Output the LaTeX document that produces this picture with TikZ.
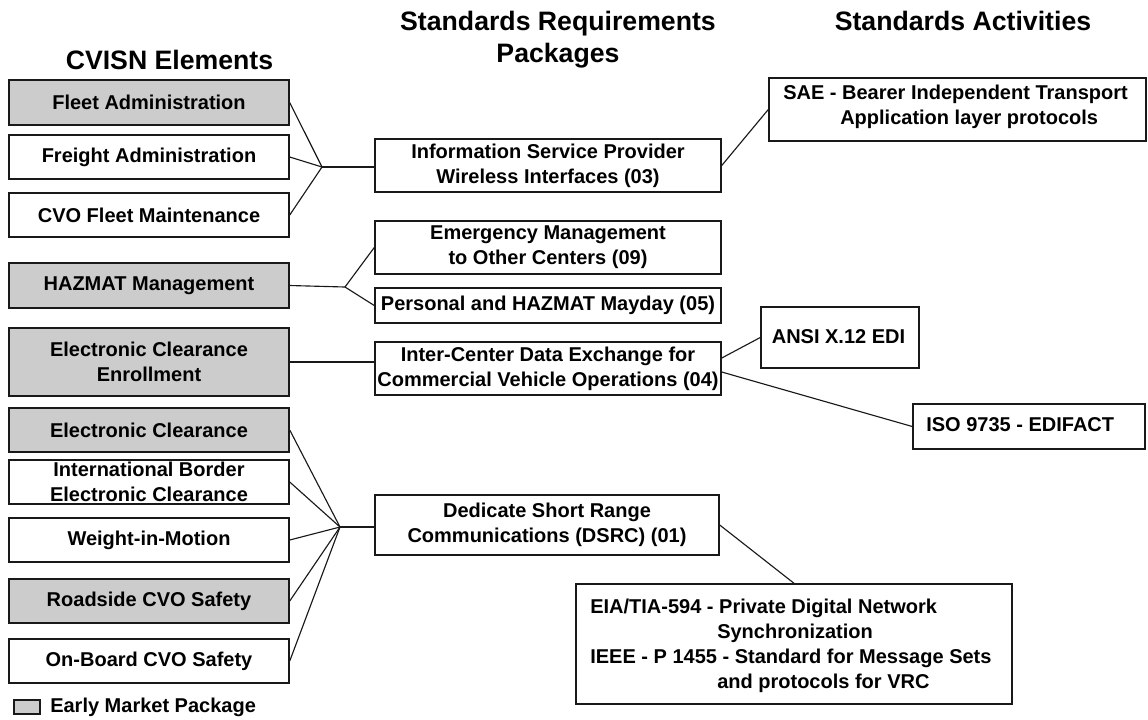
\documentclass[tikz,border=0pt]{standalone}
\usepackage{fontspec}
\setmainfont{Liberation Sans}
\usetikzlibrary{calc}
\definecolor{boxgray}{RGB}{204,204,204}
\definecolor{edge}{RGB}{25,25,25}
\begin{document}
\begin{tikzpicture}[x=0.75pt,y=-0.75pt,
  every node/.style={font=\fontsize{15}{18.75}\selectfont\bfseries, inner sep=0pt},
  wh/.style 2 args={minimum width=#1*0.75pt, minimum height=#2*0.75pt},
  box/.style={draw=edge, line width=1.1pt, fill=white, align=center},
  early/.style={box, fill=boxgray},
  conn/.style={draw=edge, line width=0.85pt},
  head/.style={font=\fontsize{20}{24}\selectfont\bfseries, anchor=base}]
\useasboundingbox (0,0) rectangle (1148,719);

% headings
\node[head] (h1) at (169.5,69) {CVISN Elements};
\node[head] (h2) at (558,30) {Standards Requirements};
\node[head] (h3) at (558,62) {Packages};
\node[head] (h4) at (963,30) {Standards Activities};

% left column
\node[early, wh={280}{45}] (fleet) at (149,102.5) {Fleet Administration};
\node[box, wh={280}{44}] (freight) at (149,157) {Freight Administration};
\node[box, wh={280}{44}] (cvo) at (149,215) {CVO Fleet Maintenance};
\node[early, wh={280}{45}] (hazmat) at (149,285.5) {HAZMAT Management};
\node[early, wh={280}{68}] (ece) at (149,362) {Electronic Clearance\\Enrollment};
\node[early, wh={280}{44}] (ec) at (149,430) {Electronic Clearance};
\node[box, wh={280}{44}] (ib) at (149,482) {International Border\\Electronic Clearance};
\node[box, wh={280}{44}] (wim) at (149,540) {Weight-in-Motion};
\node[early, wh={280}{44}] (road) at (149,601) {Roadside CVO Safety};
\node[box, wh={280}{44}] (onboard) at (149,661) {On-Board CVO Safety};

% legend
\node[early, wh={26}{14}] (legbox) at (27,707) {};
\node[anchor=west] (legtxt) at (50,707) {Early Market Package};

% middle column
\node[box, wh={346}{53}] (isp) at (548,165.5) {Information Service Provider\\Wireless Interfaces (03)};
\node[box, wh={346}{53}] (emc) at (548,247.5) {Emergency Management\\to Other Centers (09)};
\node[box, wh={346}{35}] (pers) at (548,305.5) {Personal and HAZMAT Mayday (05)};
\node[box, wh={346}{53}] (ic) at (548,368.5) {Inter-Center Data Exchange for\\Commercial Vehicle Operations (04)};
\node[box, wh={344}{60}] (dsrc) at (547,525) {Dedicate Short Range\\Communications (DSRC) (01)};

% right column
\node[box, wh={377}{63}] (sae) at (957.5,109.5) {};
\node[anchor=west, align=left] (saetxt) at (783,107) {SAE - Bearer Independent Transport\\\hspace*{42.75pt}Application layer protocols};
\node[box, wh={158}{61}] (ansi) at (840,337.5) {};
\node (ansitxt) at (838.5,337) {ANSI X.12 EDI};
\node[box, wh={232}{45}] (iso) at (1029,426.5) {};
\node[anchor=west] (isotxt) at (926,425) {ISO 9735 - EDIFACT};
\node[box, wh={436}{120}] (eia) at (794,644) {};
\node[anchor=west, align=left] (eiatxt) at (590,646) {EIA/TIA-594 - Private Digital Network\\\hspace*{95.25pt}Synchronization\\IEEE - P 1455 - Standard for Message Sets\\\hspace*{95.25pt}and protocols for VRC};

% junctions
\coordinate (j1) at (322,167);
\coordinate (j2) at (345,287);
\coordinate (j3) at (340,527);

% connectors
\draw[conn] (fleet.east) -- (j1);
\draw[conn] (freight.east) -- (j1);
\draw[conn] (cvo.east) -- (j1);
\draw[conn] (j1) -- (j1 -| isp.west);

\draw[conn] (hazmat.east) -- (j2);
\draw[conn] (j2) -- (emc.west);
\draw[conn] (j2) -- (pers.west);

\draw[conn] (ece.east) -- (ece.east -| ic.west);

\draw[conn] (ec.east) -- (j3);
\draw[conn] (ib.east) -- (j3);
\draw[conn] (wim.east) -- (j3);
\draw[conn] (road.east) -- (j3);
\draw[conn] (onboard.east) -- (j3);
\draw[conn] (j3) -- (j3 -| dsrc.west);

\draw[conn] (isp.east) -- (sae.west);
\draw[conn] ($(ic.east)+(0,-10.5)$) -- (ansi.west);
\draw[conn] ($(ic.east)+(0,3.5)$) -- (iso.west);
\draw[conn] (dsrc.east) -- (eia.north);
\end{tikzpicture}
\end{document}
